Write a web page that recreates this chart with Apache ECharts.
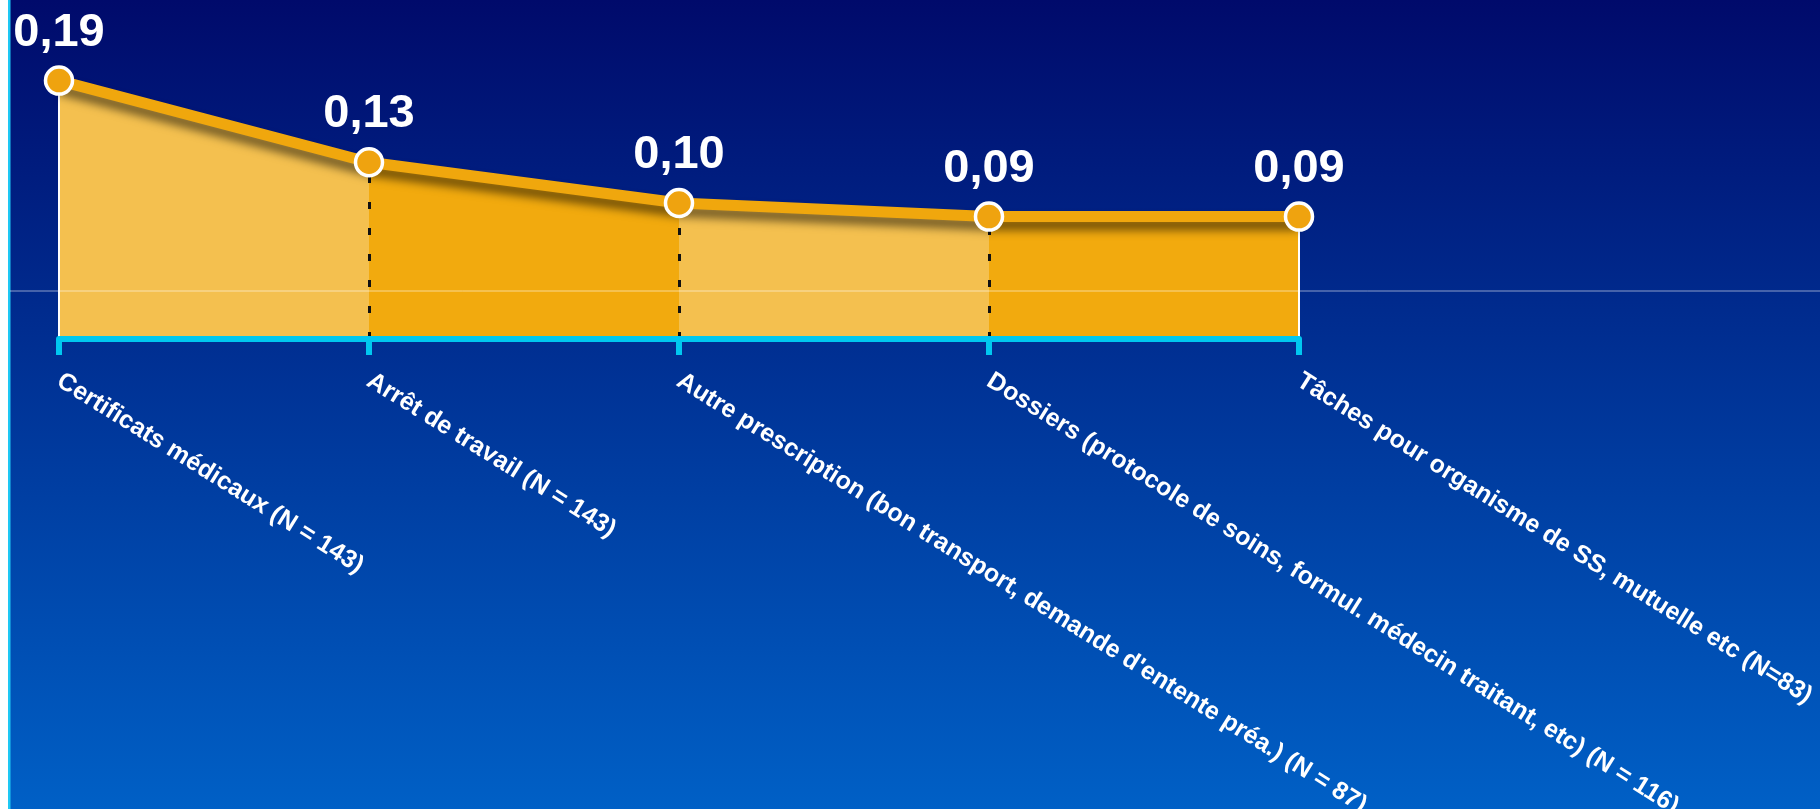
<!DOCTYPE html>
<html>
<head>
<meta charset="utf-8">
<script src="https://cdn.jsdelivr.net/npm/echarts@6/dist/echarts.min.js"></script>
<style>
html,body{margin:0;padding:0;background:#fff;}
#c{width:1820px;height:809px;}
</style>
</head>
<body>
<div id="c"></div>
<script>
const categories = [
  "Certificats médicaux (N = 143)",
  "Arrêt de travail (N = 143)",
  "Autre prescription (bon transport, demande d'entente préa.) (N = 87)",
  "Dossiers (protocole de soins, formul. médecin traitant, etc) (N = 116)",
  "Tâches pour organisme de SS, mutuelle etc (N=83)"
];
const values = [0.19, 0.13, 0.10, 0.09, 0.09];

const lightFill = '#f4c04f';
const darkFill = '#f2aa0e';
const lineColor = '#f0a70d';

const chart = echarts.init(document.getElementById('c'), null, {renderer: 'canvas'});

const areaSeries = [];
for (let i = 0; i < values.length - 1; i++) {
  areaSeries.push({
    type: 'line',
    data: values.map((v, j) => (j === i || j === i + 1) ? v : null),
    connectNulls: false,
    symbol: 'none',
    lineStyle: {width: 0},
    areaStyle: {color: i % 2 === 0 ? lightFill : darkFill, opacity: 1},
    z: 1,
    silent: true
  });
}

const vLines = values.map((v, i) => {
  const edge = (i === 0 || i === values.length - 1);
  return [
    {coord: [i, 0], lineStyle: edge ? {color: '#ffffff', width: 2, type: 'solid'} : {color: '#111111', width: 3, type: [7, 19]}},
    {coord: [i, v]}
  ];
});

chart.setOption({
  backgroundColor: {
    type: 'linear', x: 0, y: 0, x2: 0, y2: 1,
    colorStops: [{offset: 0, color: '#000a6b'}, {offset: 1, color: '#0060c6'}]
  },
  animation: false,
  grid: {left: 59, right: 521, top: 67, bottom: 470, outerBoundsMode: 'none'},
  xAxis: {
    type: 'category',
    data: categories,
    boundaryGap: false,
    axisLine: {lineStyle: {color: '#00c8f0', width: 6}},
    axisTick: {show: true, alignWithLabel: true, length: 16, lineStyle: {color: '#00c8f0', width: 6}},
    axisLabel: {
      interval: 0,
      rotate: -32,
      margin: 40,
      color: '#ffffff',
      fontFamily: 'Liberation Sans, Arial, sans-serif',
      fontWeight: 'bold',
      fontSize: 25
    },
    splitLine: {show: false},
    z: 5
  },
  yAxis: {type: 'value', min: 0, max: 0.2, show: false, splitLine: {show: false}},
  series: areaSeries.concat([{
    type: 'line',
    data: values,
    z: 4,
    symbol: 'circle',
    symbolSize: 27,
    itemStyle: {color: '#efa30f', borderColor: '#ffffff', borderWidth: 3.5},
    lineStyle: {color: lineColor, width: 11, shadowColor: 'rgba(0,0,0,0.55)', shadowBlur: 10, shadowOffsetY: 8},
    label: {
      show: true,
      position: 'top',
      distance: 9,
      color: '#ffffff',
      fontFamily: 'Liberation Sans, Arial, sans-serif',
      fontWeight: 'bold',
      fontSize: 47,
      formatter: p => p.value.toFixed(2).replace('.', ',')
    },
    markLine: {
      silent: true,
      symbol: 'none',
      label: {show: false},
      z: 2,
      data: vLines
    }
  }]),
  graphic: [
    {type: 'rect', left: 0, top: 0, shape: {width: 8, height: 809}, style: {fill: '#ffffff'}, z: 100},
    {type: 'rect', left: 8, top: 0, shape: {width: 2.5, height: 809}, style: {fill: '#1ec8f4'}, z: 100},
    {type: 'line', shape: {x1: 10, y1: 291, x2: 1820, y2: 291}, style: {stroke: 'rgba(255,255,255,0.55)', lineWidth: 1}, z: 100, silent: true}
  ]
});
</script>
</body>
</html>
